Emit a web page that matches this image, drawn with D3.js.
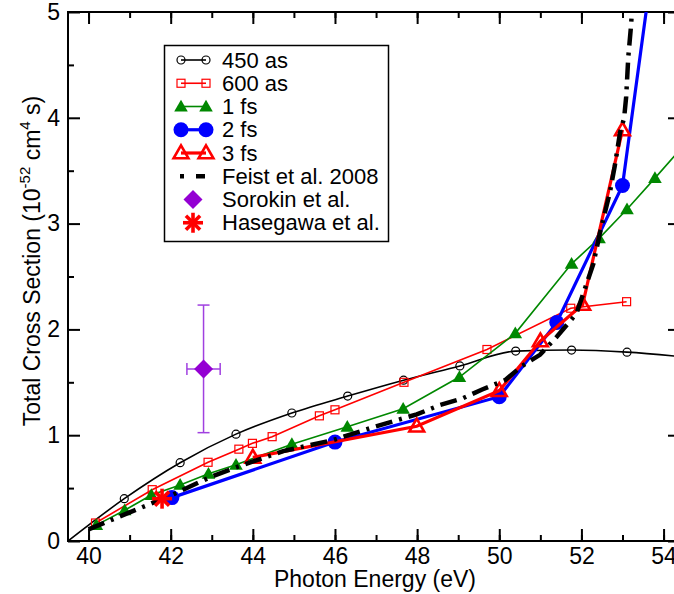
<!DOCTYPE html>
<html><head><meta charset="utf-8">
<script src="https://cdn.jsdelivr.net/npm/d3@7"></script>
<style>
body{margin:0;background:#fff}
svg{display:block;font-family:"Liberation Sans",Arial,Helvetica,sans-serif}
</style>
</head><body>
<svg id="c" width="674" height="594"></svg>
<script>
// ---------- data ----------
const xTicksMajor = [40, 42, 44, 46, 48, 50, 52, 54];
const xTicksMinor = [40, 41, 42, 43, 44, 45, 46, 47, 48, 49, 50, 51, 52, 53, 54];
const yTicksMajor = [0, 1, 2, 3, 4, 5];
const yTicksMinor = [0.5, 1.5, 2.5, 3.5, 4.5];

// 450 as (markers) + line-only ends
const e450 = [40.87, 42.23, 43.59, 44.95, 46.31, 47.67, 49.04, 50.40, 51.76, 53.11];
const v450 = [0.40, 0.74, 1.01, 1.21, 1.37, 1.52, 1.655, 1.795, 1.805, 1.785];
const e450Ends = [39.5, 54.47];
const v450Ends = [0.0, 1.74];

// 600 as
const e600 = [40.17, 41.55, 42.91, 43.66, 43.99, 44.47, 45.62, 46.0, 47.68, 49.70, 51.74, 53.1];
const v600 = [0.17, 0.485, 0.744, 0.868, 0.923, 0.986, 1.183, 1.24, 1.50, 1.81, 2.20, 2.262];

// 1 fs
const e1fs = [40.19, 40.88, 41.53, 42.23, 42.92, 43.59, 44.95, 46.30, 47.66, 49.03, 50.39, 51.76, 52.43, 53.11, 53.79, 54.47];
const v1fs = [0.15, 0.29, 0.435, 0.53, 0.635, 0.72, 0.915, 1.08, 1.25, 1.55, 1.963, 2.62, 2.86, 3.135, 3.43, 3.73];

// 2 fs (+ tail beyond top)
const e2fs = [42.03, 46.0, 50.0, 51.40, 53.0];
const v2fs = [0.41, 0.935, 1.364, 2.065, 3.36];
const e2fsTail = [53.75];
const v2fsTail = [5.5];

// 3 fs
const e3fs = [44.0, 47.99, 50.0, 51.0, 52.03, 53.0];
const v3fs = [0.79, 1.085, 1.42, 1.89, 2.235, 3.885];

// Feist et al. 2008
const eFeist = [40.0, 41.0, 42.0, 43.0, 43.69, 44.74, 45.96, 46.93, 47.99, 48.56, 49.12, 49.57, 50.14, 50.54, 50.99, 51.40, 51.88, 52.29, 52.45, 52.69, 52.81, 52.94, 53.04, 53.09, 53.14, 53.21, 53.27];
const vFeist = [0.11, 0.27, 0.43, 0.61, 0.71, 0.85, 0.955, 1.075, 1.197, 1.285, 1.35, 1.43, 1.52, 1.65, 1.76, 1.93, 2.15, 2.62, 2.91, 3.29, 3.54, 3.86, 4.0, 4.2, 4.57, 4.88, 5.3];

// Sorokin et al. (point with error bars)
const eSorokin = [42.8];
const vSorokin = [1.626];
const dxSorokin = [0.405];
const vSorokinLow = [1.024];
const vSorokinHigh = [2.23];

// Hasegawa et al.
const eHasegawa = [41.79];
const vHasegawa = [0.40];

const legendLabels = ["450 as", "600 as", "1 fs", "2 fs", "3 fs", "Feist et al. 2008", "Sorokin et al.", "Hasegawa et al."];

// ---------- setup ----------
const FONT = '"Liberation Sans",Arial,Helvetica,sans-serif';
const svg = d3.select("#c");
const M = {left: 68, right: 680, top: 12, bottom: 541};
const x = d3.scaleLinear().domain([39.5, 54.4]).range([M.left, M.right]);
const y = d3.scaleLinear().domain([0, 5]).range([M.bottom, M.top]);

svg.append("defs").append("clipPath").attr("id", "clip")
  .append("rect").attr("x", M.left).attr("y", M.top)
  .attr("width", M.right - M.left).attr("height", M.bottom - M.top);

const zip = (xs, ys) => xs.map((d, i) => [d, ys[i]]);
const line = d3.line().x(d => x(d[0])).y(d => y(d[1]));
const smooth = d3.line().x(d => x(d[0])).y(d => y(d[1])).curve(d3.curveMonotoneX);

// ---------- axes ----------
function axis(gen, transform, values, size, labels, pad) {
  const g = svg.append("g").attr("transform", transform)
    .call(gen.tickValues(values).tickSize(-size).tickSizeOuter(0).tickPadding(pad || 0)
      .tickFormat(labels ? d3.format("d") : () => ""));
  g.attr("font-size", 23).attr("font-family", FONT);
  g.select(".domain").remove();
  g.selectAll("line").attr("stroke", "#000").attr("stroke-width", 2);
  g.selectAll("text").attr("fill", "#000");
  return g;
}
axis(d3.axisBottom(x), `translate(0,${M.bottom})`, xTicksMinor, 6, false);
axis(d3.axisBottom(x), `translate(0,${M.bottom})`, xTicksMajor, 12, true, 7);
axis(d3.axisTop(x), `translate(0,${M.top})`, xTicksMinor, 6, false);
axis(d3.axisTop(x), `translate(0,${M.top})`, xTicksMajor, 12, false);
axis(d3.axisLeft(y), `translate(${M.left},0)`, yTicksMinor, 6, false);
axis(d3.axisLeft(y), `translate(${M.left},0)`, yTicksMajor, 12, true, 8);
axis(d3.axisRight(y), `translate(${M.right},0)`, yTicksMinor, 6, false);
axis(d3.axisRight(y), `translate(${M.right},0)`, yTicksMajor, 12, false);

svg.append("rect").attr("x", M.left).attr("y", M.top)
  .attr("width", M.right - M.left).attr("height", M.bottom - M.top)
  .attr("fill", "none").attr("stroke", "#000").attr("stroke-width", 2);

// axis titles
svg.append("text").attr("x", 375).attr("y", 587).attr("text-anchor", "middle")
  .attr("font-size", 23).attr("font-family", FONT).text("Photon Energy (eV)");
const yl = svg.append("text").attr("transform", "translate(39.5,261) rotate(-90)")
  .attr("text-anchor", "middle").attr("font-size", 23).attr("font-family", FONT);
yl.append("tspan").text("Total Cross Section (10");
yl.append("tspan").attr("font-size", 15).attr("dy", -10).text("-52");
yl.append("tspan").attr("dy", 10).text(" cm");
yl.append("tspan").attr("font-size", 15).attr("dy", -10).text("4");
yl.append("tspan").attr("dy", 10).text(" s)");

// ---------- marker helpers ----------
const GREEN = "#008800", RED = "#ff0000", BLUE = "#0000ff", PURPLE = "#9400d3";
function marker(g, type, cx, cy) {
  switch (type) {
    case "circleOpen":
      g.append("circle").attr("cx", cx).attr("cy", cy).attr("r", 4)
        .attr("fill", "none").attr("stroke", "#000").attr("stroke-width", 1.2); break;
    case "squareOpen":
      g.append("rect").attr("x", cx - 4).attr("y", cy - 4).attr("width", 8).attr("height", 8)
        .attr("fill", "none").attr("stroke", RED).attr("stroke-width", 1.2); break;
    case "triFilled":
      g.append("path").attr("d", d3.symbol(d3.symbolTriangle, 80)())
        .attr("transform", `translate(${cx},${cy + 1})`).attr("fill", GREEN); break;
    case "circleFilled":
      g.append("circle").attr("cx", cx).attr("cy", cy).attr("r", 7.5).attr("fill", BLUE); break;
    case "triOpen":
      g.append("path").attr("d", d3.symbol(d3.symbolTriangle, 95)())
        .attr("transform", `translate(${cx},${cy + 1})`).attr("fill", "none")
        .attr("stroke", RED).attr("stroke-width", 2.6); break;
    case "diamond":
      g.append("path").attr("d", "M0,-9.5L9.5,0L0,9.5L-9.5,0Z")
        .attr("transform", `translate(${cx},${cy})`).attr("fill", PURPLE); break;
    case "asterisk": {
      const a = g.append("g").attr("transform", `translate(${cx},${cy})`);
      [0, 45, 90, 135].forEach(r => a.append("line").attr("x1", -10).attr("x2", 10)
        .attr("transform", `rotate(${r})`).attr("stroke", RED).attr("stroke-width", 3.6));
      break;
    }
  }
}

// ---------- series ----------
const plot = svg.append("g").attr("clip-path", "url(#clip)");

// 450 as
plot.append("path")
  .datum([[e450Ends[0], v450Ends[0]], ...zip(e450, v450), [e450Ends[1], v450Ends[1]]])
  .attr("d", smooth).attr("fill", "none").attr("stroke", "#000").attr("stroke-width", 1.6);
zip(e450, v450).forEach(d => marker(plot, "circleOpen", x(d[0]), y(d[1])));

// 600 as
plot.append("path").datum(zip(e600, v600)).attr("d", line)
  .attr("fill", "none").attr("stroke", RED).attr("stroke-width", 1.6);
zip(e600, v600).forEach(d => marker(plot, "squareOpen", x(d[0]), y(d[1])));

// 1 fs
plot.append("path").datum(zip(e1fs, v1fs)).attr("d", line)
  .attr("fill", "none").attr("stroke", GREEN).attr("stroke-width", 1.6);
zip(e1fs, v1fs).forEach(d => marker(plot, "triFilled", x(d[0]), y(d[1])));

// 2 fs
plot.append("path").datum([...zip(e2fs, v2fs), ...zip(e2fsTail, v2fsTail)]).attr("d", line)
  .attr("fill", "none").attr("stroke", BLUE).attr("stroke-width", 3.2);
zip(e2fs, v2fs).forEach(d => marker(plot, "circleFilled", x(d[0]), y(d[1])));

// 3 fs
plot.append("path").datum(zip(e3fs, v3fs)).attr("d", line)
  .attr("fill", "none").attr("stroke", RED).attr("stroke-width", 3.2);
zip(e3fs, v3fs).forEach(d => marker(plot, "triOpen", x(d[0]), y(d[1])));

// Feist
plot.append("path").datum(zip(eFeist, vFeist)).attr("d", line)
  .attr("fill", "none").attr("stroke", "#000").attr("stroke-width", 4.5)
  .attr("stroke-dasharray", "17,7,3,7");

// Sorokin with error bars
eSorokin.forEach((e, i) => {
  const g = plot.append("g").attr("stroke", "#a040e0").attr("stroke-width", 1.5);
  const cx = x(e), cy = y(vSorokin[i]);
  const yLo = y(vSorokinLow[i]), yHi = y(vSorokinHigh[i]);
  const xLo = x(e - dxSorokin[i]), xHi = x(e + dxSorokin[i]);
  g.append("line").attr("x1", cx).attr("x2", cx).attr("y1", yLo).attr("y2", yHi);
  g.append("line").attr("x1", cx - 6).attr("x2", cx + 6).attr("y1", yLo).attr("y2", yLo);
  g.append("line").attr("x1", cx - 6).attr("x2", cx + 6).attr("y1", yHi).attr("y2", yHi);
  g.append("line").attr("x1", xLo).attr("x2", xHi).attr("y1", cy).attr("y2", cy);
  g.append("line").attr("x1", xLo).attr("x2", xLo).attr("y1", cy - 6).attr("y2", cy + 6);
  g.append("line").attr("x1", xHi).attr("x2", xHi).attr("y1", cy - 6).attr("y2", cy + 6);
  marker(plot, "diamond", cx, cy);
});

// Hasegawa
zip(eHasegawa, vHasegawa).forEach(d => marker(plot, "asterisk", x(d[0]), y(d[1])));

// ---------- legend ----------
const L = {x: 164.5, y: 45.5, w: 224, h: 196, row0: 60, dy: 23.25, m1: 181, m2: 206, tx: 222};
const lg = svg.append("g");
lg.append("rect").attr("x", L.x).attr("y", L.y).attr("width", L.w).attr("height", L.h)
  .attr("fill", "#fff").attr("stroke", "#000").attr("stroke-width", 1.5);
const legendKeys = [
  {stroke: "#000", w: 1.6, m: "circleOpen"},
  {stroke: RED, w: 1.6, m: "squareOpen"},
  {stroke: GREEN, w: 1.6, m: "triFilled"},
  {stroke: BLUE, w: 3.2, m: "circleFilled"},
  {stroke: RED, w: 3.2, m: "triOpen"},
  {stroke: "#000", w: 4.5, dash: "0,3,4,12,9,60", m: null},
  {m: "diamond", single: true},
  {m: "asterisk", single: true}
];
legendLabels.forEach((lab, i) => {
  const ry = L.row0 + i * L.dy;
  const k = legendKeys[i];
  if (k.single) {
    marker(lg, k.m, 193, ry);
  } else {
    const ln = lg.append("line").attr("x1", k.m ? L.m1 : 177).attr("x2", k.m ? L.m2 : 210)
      .attr("y1", ry).attr("y2", ry).attr("stroke", k.stroke).attr("stroke-width", k.w);
    if (k.dash) ln.attr("stroke-dasharray", k.dash);
    if (k.m) { marker(lg, k.m, L.m1, ry); marker(lg, k.m, L.m2, ry); }
  }
  lg.append("text").attr("x", L.tx).attr("y", ry + 7.5).attr("font-size", 22)
    .attr("font-family", FONT).text(lab);
});
</script>
</body></html>
